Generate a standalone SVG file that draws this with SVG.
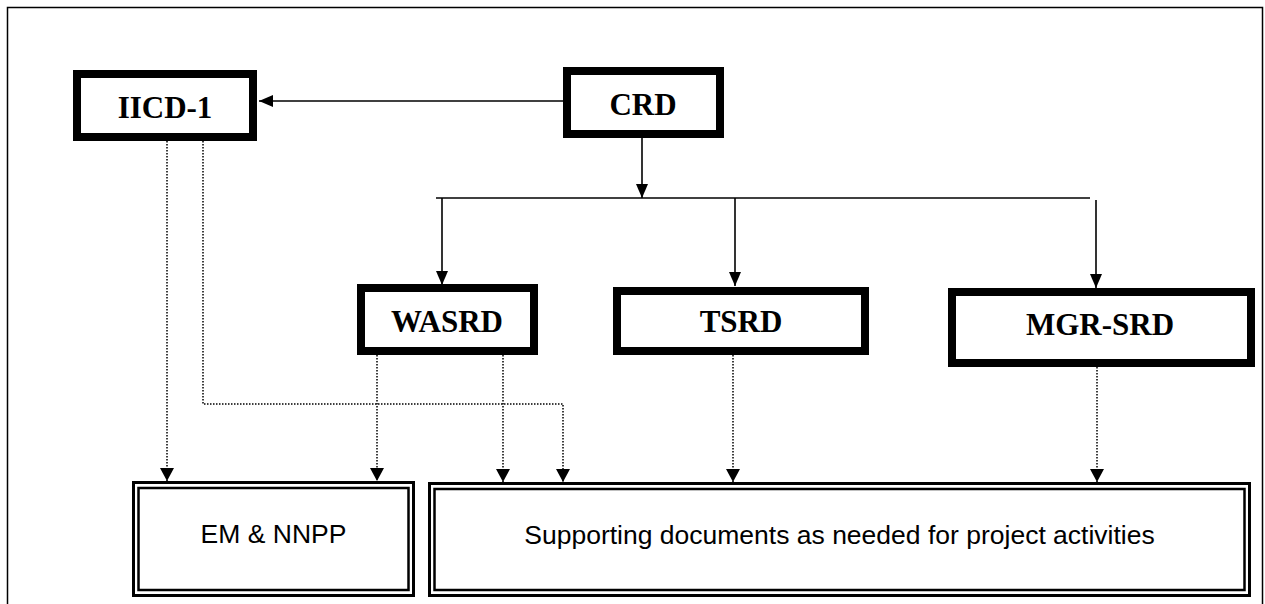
<svg xmlns="http://www.w3.org/2000/svg" width="1265" height="604" viewBox="0 0 1265 604">
<style>
.thick{fill:#fff;stroke:#000;stroke-width:8}
.dbl-o{fill:#fff;stroke:#000;stroke-width:3}
.dbl-i{fill:none;stroke:#000;stroke-width:2.5}
.t{font-family:"Liberation Serif","Times New Roman",serif;font-weight:bold;font-size:31px;text-anchor:middle;fill:#000}
.s{font-family:"Liberation Sans",Arial,sans-serif;font-size:26.5px;text-anchor:middle;fill:#000}
.solid{fill:none;stroke:#000;stroke-width:1.6}
.dot{fill:none;stroke:#000;stroke-width:1.5;stroke-dasharray:1.5 1.5}
</style>
<defs>
<marker id="ah" viewBox="0 0 14 12" markerWidth="14" markerHeight="12" refX="14" refY="6" orient="auto" markerUnits="userSpaceOnUse"><path d="M0,0 L14,6 L0,12 z" fill="#000"/></marker>
<marker id="ahd" viewBox="0 0 13 14" markerWidth="13" markerHeight="14" refX="13" refY="7" orient="auto" markerUnits="userSpaceOnUse"><path d="M0,0 L13,7 L0,14 z" fill="#000"/></marker>
</defs>
<rect x="0" y="0" width="1265" height="604" fill="#fff"/>
<rect x="7.5" y="7.5" width="1255" height="610" fill="none" stroke="#000" stroke-width="1.5"/>

<g id="connectors">
<path class="solid" d="M563,101 H259" marker-end="url(#ah)"/>
<path class="solid" d="M642,138 V198" marker-end="url(#ah)"/>
<path class="solid" d="M436,198 H1090"/>
<path class="solid" d="M442,198 V285" marker-end="url(#ah)"/>
<path class="solid" d="M735,198 V286" marker-end="url(#ah)"/>
<path class="solid" d="M1096,200 V288" marker-end="url(#ah)"/>
<path class="dot" d="M167,141 V481" marker-end="url(#ahd)"/>
<path class="dot" d="M203,141 V404 H563 V482" marker-end="url(#ahd)"/>
<path class="dot" d="M377,355 V481" marker-end="url(#ahd)"/>
<path class="dot" d="M503,355 V482" marker-end="url(#ahd)"/>
<path class="dot" d="M733,355 V482" marker-end="url(#ahd)"/>
<path class="dot" d="M1097,367 V482" marker-end="url(#ahd)"/>
</g>

<g id="iicd1">
<rect class="thick" x="77" y="74" width="176" height="63"/>
<text class="t" x="165" y="118">IICD-1</text>
</g>
<g id="crd">
<rect class="thick" x="567" y="71" width="153" height="63"/>
<text class="t" x="643" y="115">CRD</text>
</g>
<g id="wasrd">
<rect class="thick" x="361" y="288" width="173" height="63"/>
<text class="t" x="447" y="332">WASRD</text>
</g>
<g id="tsrd">
<rect class="thick" x="617" y="291" width="248" height="60"/>
<text class="t" x="741" y="332">TSRD</text>
</g>
<g id="mgrsrd">
<rect class="thick" x="952" y="292" width="299" height="71"/>
<text class="t" x="1100" y="335">MGR-SRD</text>
</g>
<g id="emnnpp">
<rect class="dbl-o" x="133.5" y="482.5" width="280" height="113"/>
<rect class="dbl-i" x="138.5" y="488" width="270" height="102"/>
<text class="s" x="273.5" y="543">EM &amp; NNPP</text>
</g>
<g id="supporting">
<rect class="dbl-o" x="429.5" y="483.5" width="820" height="112"/>
<rect class="dbl-i" x="434.5" y="489" width="810" height="101"/>
<text class="s" x="839.5" y="544">Supporting documents as needed for project activities</text>
</g>
</svg>
